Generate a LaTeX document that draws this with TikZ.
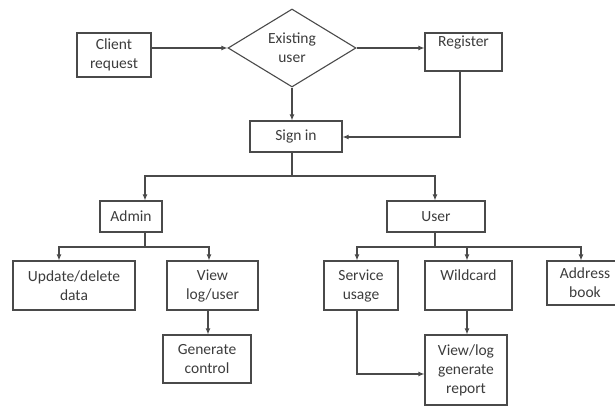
\documentclass[tikz,border=0pt]{standalone}
\usepackage{fontspec}
\setmainfont{Carlito}
\usetikzlibrary{arrows.meta,shapes.geometric}
\definecolor{linegray}{HTML}{4A4A4A}
\definecolor{textgray}{HTML}{3C3C3C}
\begin{document}
\begin{tikzpicture}[x=1pt,y=-1pt,
  every node/.style={font=\fontsize{15.5}{19}\selectfont, text=textgray},
  box/.style={draw=linegray, line width=1.1pt, rectangle, inner sep=0pt, align=center},
  decision/.style={draw=linegray, line width=1.1pt, diamond, inner sep=0pt, align=center},
  link/.style={draw=linegray, line width=1.1pt},
  flow/.style={link, -{Latex[length=6pt,width=5pt]}}
]
\useasboundingbox (0,0) rectangle (615,406);

% top row
\node[box, minimum width=74pt, minimum height=44pt] (client) at (114,55) {Client\\request};
\node[decision, minimum width=128pt, minimum height=78pt] (exist) at (292,48) {Existing\\user};
\node[box, minimum width=77pt, minimum height=38pt] (reg) at (463.5,52) {Register\\\phantom{g}};
\node[box, minimum width=92pt, minimum height=31pt] (sign) at (296,136.5) {Sign in};

% second level
\node[box, minimum width=62pt, minimum height=31pt] (admin) at (131,216.5) {Admin};
\node[box, minimum width=98pt, minimum height=31pt] (user) at (436,216.5) {User};

% admin branch
\node[box, minimum width=122pt, minimum height=49pt] (upd) at (74,285.5) {Update/delete\\data};
\node[box, minimum width=91pt, minimum height=49pt] (vlog) at (212.5,285.5) {View\\log/user};
\node[box, minimum width=88pt, minimum height=48pt] (gen) at (207,359) {Generate\\control};

% user branch
\node[box, minimum width=74pt, minimum height=49pt] (serv) at (361,285.5) {Service\\usage};
\node[box, minimum width=87pt, minimum height=49pt] (wild) at (468.5,285.5) {Wildcard\\\phantom{g}};
\node[box, minimum width=76pt, minimum height=44pt] (addr) at (585,283) {Address\\book};
\node[box, minimum width=82pt, minimum height=70pt] (rep) at (466,370) {View/log\\generate\\report};

% coordinates for buses and bends
\coordinate (signbus) at (292,176);
\coordinate (adminbus) at (145,247);
\coordinate (userbus) at (435,247);

% top row connectors
\draw[flow] (client.east |- exist.west) -- (exist.west);
\draw[flow] (exist.east) -- (reg.west |- exist.east);
\draw[flow] (exist.south) -- (exist.south |- sign.north);
\draw[flow] (460,71) -- (460,137) -- (sign.east |- 0,137);

% sign in splits to admin and user
\draw[link] (sign.south -| signbus) -- (signbus);
\draw[flow] (signbus) -| (admin.north -| adminbus);
\draw[flow] (signbus) -| (user.north -| userbus);

% admin splits
\draw[link] (admin.south -| adminbus) -- (adminbus);
\draw[flow] (adminbus) -| (upd.north -| 59,0);
\draw[flow] (adminbus) -| (vlog.north -| 209,0);
\draw[flow] (vlog.south -| 208,0) -- (gen.north -| 208,0);

% user splits
\draw[link] (user.south -| userbus) -- (userbus);
\draw[flow] (userbus) -| (serv.north -| 357,0);
\draw[flow] (userbus) -- (467,247) -- (wild.north -| 467,0);
\draw[flow] (userbus) -| (addr.north -| 581,0);
\draw[flow] (wild.south -| 467,0) -- (rep.north -| 467,0);
\draw[flow, line width=1.5pt] (serv.south -| 357,0) -- (357,374) -- (rep.west |- 0,374);
\end{tikzpicture}
\end{document}
